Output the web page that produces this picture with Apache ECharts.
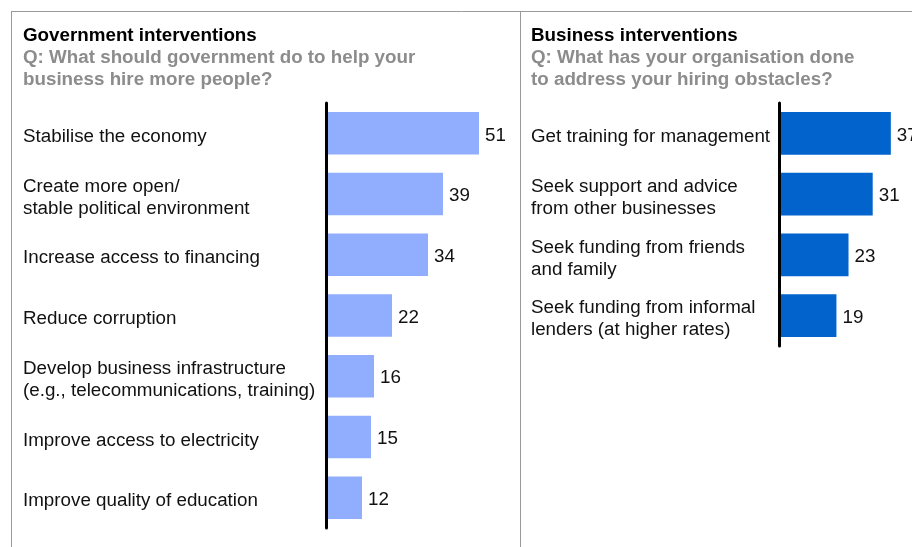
<!DOCTYPE html>
<html>
<head>
<meta charset="utf-8">
<script src="https://cdn.jsdelivr.net/npm/echarts@6/dist/echarts.min.js"></script>
<style>
  html, body { margin: 0; padding: 0; background: #fff; }
  #main { width: 912px; height: 547px; }
</style>
</head>
<body>
<div id="main"></div>
<script>
// data
var govCategories = [
    'Stabilise the economy',
    'Create more open/\nstable political environment',
    'Increase access to financing',
    'Reduce corruption',
    'Develop business infrastructure\n(e.g., telecommunications, training)',
    'Improve access to electricity',
    'Improve quality of education'
];
var govValues = [51, 39, 34, 22, 16, 15, 12];

var bizCategories = [
    'Get training for management',
    'Seek support and advice\nfrom other businesses',
    'Seek funding from friends\nand family',
    'Seek funding from informal\nlenders (at higher rates)'
];
var bizValues = [37, 31, 23, 19];

var FONT = 'Liberation Sans, Arial, sans-serif';
var FS = 18.8;

var myChart = echarts.init(document.getElementById('main'));

// axis that carries the black line (grids 0,1)
function lineAxis(idx, cats) {
    return {
        type: 'category',
        gridIndex: idx,
        inverse: true,
        z: 5,
        data: cats,
        axisLine: { show: true, lineStyle: { color: '#000', width: 3 } },
        axisTick: { show: false },
        axisLabel: { show: false }
    };
}

// axis that carries the category text (grids 2,3, shifted down a little)
function labelAxis(idx, cats, margin) {
    return {
        type: 'category',
        gridIndex: idx,
        inverse: true,
        data: cats,
        axisLine: { show: false },
        axisTick: { show: false },
        axisLabel: {
            align: 'left',
            margin: margin,
            color: '#111',
            fontFamily: FONT,
            fontSize: FS,
            lineHeight: 22
        }
    };
}

function valAxis(idx, max) {
    return {
        type: 'value',
        gridIndex: idx,
        min: 0,
        max: max,
        show: false
    };
}

function barSeries(idx, vals, color) {
    return {
        type: 'bar',
        xAxisIndex: idx,
        yAxisIndex: idx,
        data: vals,
        barCategoryGap: '30%',
        itemStyle: { color: color },
        label: {
            show: true,
            position: 'right',
            distance: 6,
            offset: [0, 2],
            color: '#111',
            fontFamily: FONT,
            fontSize: FS
        },
        silent: true
    };
}

var titleStyle = { color: '#000', fontFamily: FONT, fontSize: FS, fontWeight: 'bold', lineHeight: 22 };
var subStyle = { color: '#8c8c8c', fontFamily: FONT, fontSize: FS, fontWeight: 'bold', lineHeight: 22 };

var option = {
    backgroundColor: '#fff',
    animation: false,
    title: [
        {
            text: 'Government interventions',
            subtext: 'Q: What should government do to help your\nbusiness hire more people?',
            left: 18, top: 20, itemGap: 0,
            textStyle: titleStyle, subtextStyle: subStyle
        },
        {
            text: 'Business interventions',
            subtext: 'Q: What has your organisation done\nto address your hiring obstacles?',
            left: 526, top: 20, itemGap: 0,
            textStyle: titleStyle, subtextStyle: subStyle
        }
    ],
    grid: [
        { left: 326, top: 103, width: 180, height: 425 },
        { left: 779, top: 103, width: 133, height: 243 },
        { left: 326, top: 106.5, width: 180, height: 425 },
        { left: 779, top: 106.5, width: 133, height: 243 }
    ],
    xAxis: [valAxis(0, 60), valAxis(1, 44), valAxis(2, 60), valAxis(3, 44)],
    yAxis: [
        lineAxis(0, govCategories),
        lineAxis(1, bizCategories),
        labelAxis(2, govCategories, 303),
        labelAxis(3, bizCategories, 248)
    ],
    series: [
        barSeries(0, govValues, '#91aefe'),
        barSeries(1, bizValues, '#0263cc')
    ],
    graphic: [
        { type: 'line', shape: { x1: 11, y1: 11.5, x2: 912, y2: 11.5 }, style: { stroke: '#9a9a9a', lineWidth: 1 } },
        { type: 'line', shape: { x1: 11.5, y1: 11, x2: 11.5, y2: 547 }, style: { stroke: '#9a9a9a', lineWidth: 1 } },
        { type: 'line', shape: { x1: 520.5, y1: 11, x2: 520.5, y2: 547 }, style: { stroke: '#9a9a9a', lineWidth: 1 } }
    ]
};

myChart.setOption(option);
</script>
</body>
</html>
